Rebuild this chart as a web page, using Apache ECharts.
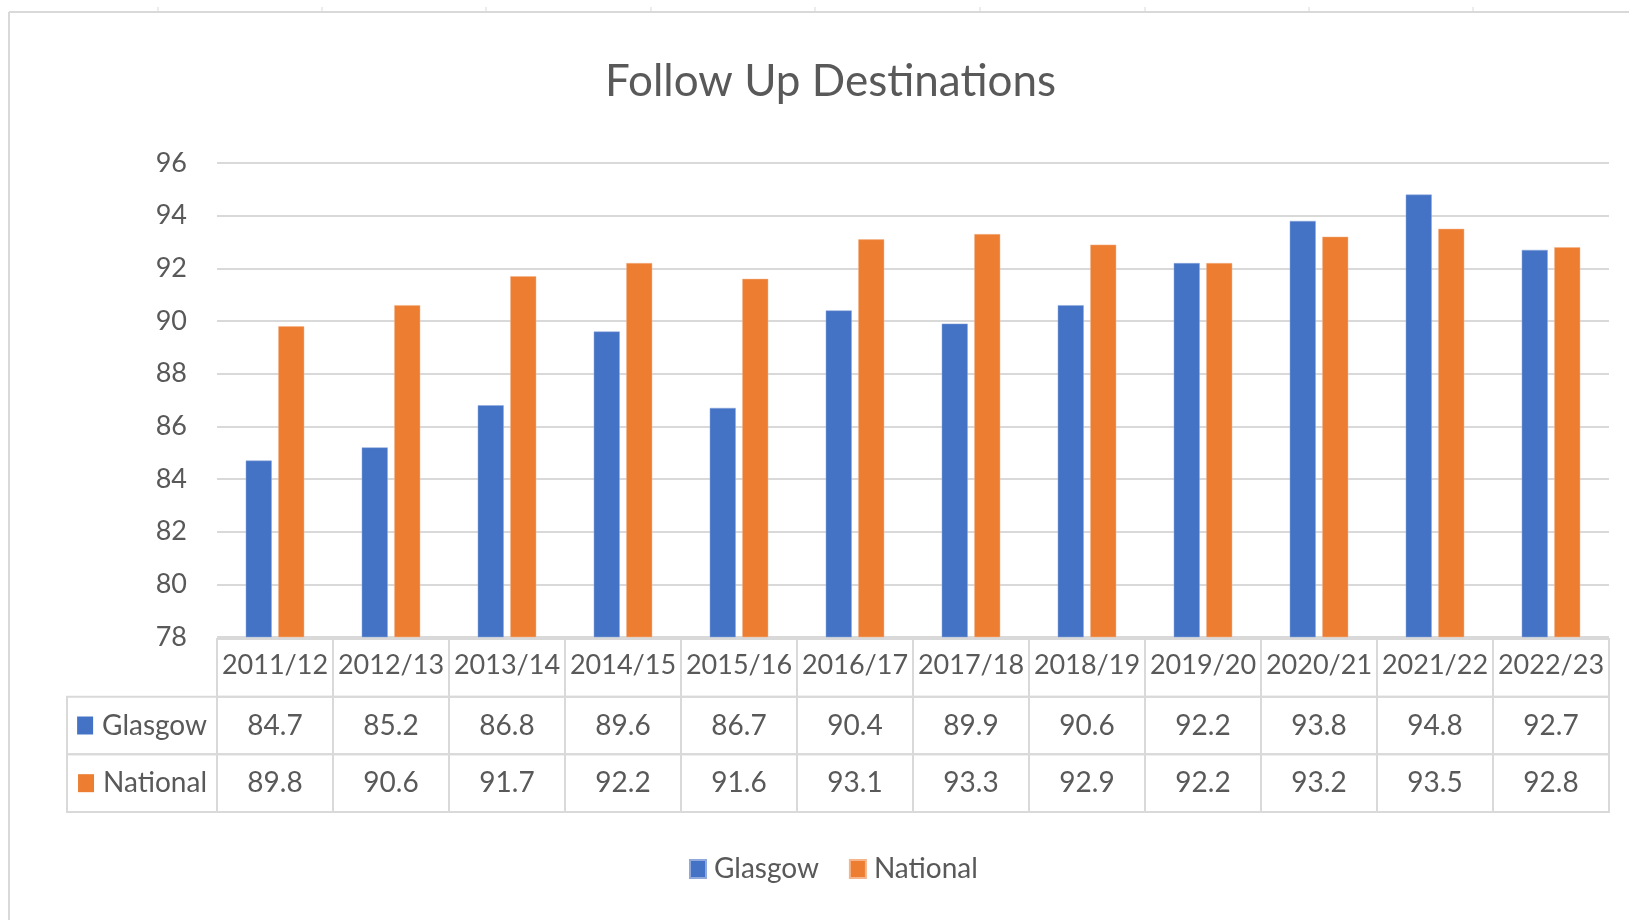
<!DOCTYPE html>
<html>
<head>
<meta charset="utf-8">
<script src="https://cdn.jsdelivr.net/npm/echarts@6/dist/echarts.min.js"></script>
<style>
html,body{margin:0;padding:0;background:#fff;}
#chart{width:1629px;height:920px;}
</style>
</head>
<body>
<div id="chart"></div>
<script>
const categories = ['2011/12','2012/13','2013/14','2014/15','2015/16','2016/17','2017/18','2018/19','2019/20','2020/21','2021/22','2022/23'];
const glasgow = [84.7,85.2,86.8,89.6,86.7,90.4,89.9,90.6,92.2,93.8,94.8,92.7];
const national = [89.8,90.6,91.7,92.2,91.6,93.1,93.3,92.9,92.2,93.2,93.5,92.8];
const seriesNames = ['Glasgow','National'];
const yTicks = {min:78, max:96, interval:2};

const colors = ['#4472C4','#ED7D31'];
const textColor = '#595959';
const gridColor = '#d9d9d9';
const FONT = 'Lato';
const FS = 27;
const FS2 = 28;

const rows = ['', seriesNames[0], seriesNames[1]];
const cells = [];
categories.forEach((c,i)=>{ cells.push({col:i,row:0,text:c}); });
glasgow.forEach((v,i)=>{ cells.push({col:i,row:1,text:v.toFixed(1)}); });
national.forEach((v,i)=>{ cells.push({col:i,row:2,text:v.toFixed(1)}); });

const chart = echarts.init(document.getElementById('chart'));
const topTicks = [158,322,486,651,815,980,1145,1309,1473];
const graphics = [
  {type:'line', shape:{x1:9,y1:12,x2:1629,y2:12}, style:{stroke:'#d9d9d9',lineWidth:2}, silent:true},
  {type:'line', shape:{x1:9,y1:12,x2:9,y2:920}, style:{stroke:'#d9d9d9',lineWidth:2}, silent:true}
].concat(topTicks.map(x=>({type:'line', shape:{x1:x,y1:7,x2:x,y2:12}, style:{stroke:'#d9d9d9',lineWidth:1}, silent:true})));

chart.setOption({
  animation:false,
  backgroundColor:'#fff',
  graphic: graphics,
  title:{
    text:'Follow Up Destinations',
    left:600,
    top:55,
    textStyle:{fontFamily:FONT,fontSize:44,fontWeight:'normal',color:textColor}
  },
  legend:{
    data:seriesNames,
    left:684,
    top:850,
    icon:'rect',
    itemWidth:16,
    itemHeight:18,
    itemGap:30,
    textStyle:{fontFamily:FONT,fontSize:FS2,color:textColor,padding:[0,0,0,3]}
  },
  grid:[
    {left:217,right:20,top:163,bottom:283},
    {left:217,right:20,top:639,height:173}
  ],
  xAxis:[
    {type:'category',gridIndex:0,data:categories,axisLabel:{show:false},axisTick:{show:false},axisLine:{show:false}},
    {type:'category',gridIndex:1,data:categories,show:false}
  ],
  yAxis:[
    {type:'value',gridIndex:0,min:yTicks.min,max:yTicks.max,interval:yTicks.interval,
     axisLabel:{fontFamily:FONT,fontSize:FS,color:textColor,margin:30},
     axisLine:{show:false},axisTick:{show:false},
     splitLine:{lineStyle:{color:gridColor,width:2}}},
    {type:'category',gridIndex:1,data:rows,inverse:true,
     axisLine:{show:false},axisTick:{show:false},splitLine:{show:false},
     axisLabel:{margin:10,
       formatter:function(v){ if(!v) return ''; const k = v===seriesNames[0]?'a':'b'; return '{'+k+'|}{t|'+v+'}'; },
       rich:{
         a:{backgroundColor:colors[0],width:16,height:18},
         b:{backgroundColor:colors[1],width:16,height:18},
         t:{fontFamily:FONT,fontSize:FS2,color:textColor,padding:[0,0,0,9]}
       }}}
  ],
  series:[
    {name:seriesNames[0],type:'bar',xAxisIndex:0,yAxisIndex:0,data:glasgow,barWidth:26,barGap:'25%',
     itemStyle:{color:colors[0],borderColor:'#8fa9dc',borderWidth:0.5}},
    {name:seriesNames[1],type:'bar',xAxisIndex:0,yAxisIndex:0,data:national,barWidth:26,barGap:'25%',
     itemStyle:{color:colors[1],borderColor:'#f5b48a',borderWidth:0.5}},
    {name:'table',type:'custom',xAxisIndex:1,yAxisIndex:1,silent:true,
     data:cells.map(c=>[c.col,c.row]),
     renderItem:function(params,api){
       const cell = cells[params.dataIndex];
       const c = api.coord([api.value(0),api.value(1)]);
       const s = api.size([1,1]);
       const x0 = c[0]-s[0]/2, y0 = c[1]-s[1]/2;
       const dy = cell.row===0 ? -3 : 0;
       const children = [
         {type:'rect',shape:{x:x0,y:y0,width:s[0],height:s[1]},style:{fill:null,stroke:gridColor,lineWidth:2}},
         {type:'text',style:{x:c[0],y:c[1]+dy,text:cell.text,align:'center',verticalAlign:'middle',fill:textColor,fontFamily:FONT,fontSize:cell.row===0?FS:FS2}}
       ];
       if(cell.col===0 && cell.row>0){
         children.unshift({type:'rect',shape:{x:x0-150,y:y0,width:150,height:s[1]},style:{fill:null,stroke:gridColor,lineWidth:2}});
       }
       return {type:'group',children:children};
     }}
  ]
});
</script>
</body>
</html>
